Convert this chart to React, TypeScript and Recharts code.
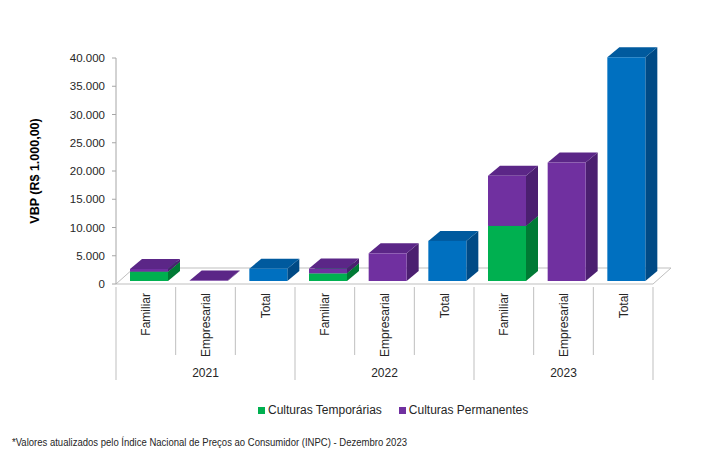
import React from 'react';
import { ComposedChart, Bar, XAxis, YAxis, CartesianGrid, Legend } from 'recharts';

// Categorias (eixo X) e anos
const categorias = ['Familiar', 'Empresarial', 'Total', 'Familiar', 'Empresarial', 'Total', 'Familiar', 'Empresarial', 'Total'];
const anos = ['2021', '2022', '2023'];

// VBP (R$ 1.000,00)
const culturasTemporarias = [1650, null, null, 1350, null, null, 9750, null, null];
const culturasPermanentes = [480, 70, null, 850, 4900, null, 8870, 20970, null];
const totais = [null, null, 2180, null, null, 7100, null, null, 39600];

const yTicks = [0, 5000, 10000, 15000, 20000, 25000, 30000, 35000, 40000];
const ordemLegenda = ['Culturas Temporárias', 'Culturas Permanentes'];

const W = 706;
const H = 471;
const PLOT_LEFT = 116;
const PLOT_RIGHT = 653;
const PLOT_TOP = 58;
const PLOT_BOTTOM = 284;
const BAND = (PLOT_RIGHT - PLOT_LEFT) / categorias.length;

const TEXT = '#262626';
const LINE = '#BFBFBF';
const FONT = "'Liberation Sans', Arial, sans-serif";

const data = categorias.map((cat, i) => ({
    id: `${anos[Math.floor(i / 3)]}-${cat}`,
    temporarias: culturasTemporarias[i],
    permanentes: culturasPermanentes[i],
    total: totais[i],
}));

const formatMilhar = (v: number) => String(v).replace(/\B(?=(\d{3})+(?!\d))/g, '.');

// barra 3D: frente + topo + lateral
const DX = 12;
const DY = 10;
const SHIFT_X = 3;
const SHIFT_Y = 3;

const make3D = (key: string, front: string, top: string, side: string) => (props: any) => {
    const { x, y, width, height, payload } = props;
    if (!payload || payload[key] == null) return <g />;
    if (x == null || y == null || height == null || isNaN(height)) return <g />;
    const x0 = x + SHIFT_X;
    const y0 = y - SHIFT_Y;
    const w = width;
    const h = Math.max(height, 0);
    return (
        <g>
            <polygon
                points={`${x0 + w},${y0} ${x0 + w + DX},${y0 - DY} ${x0 + w + DX},${y0 + h - DY} ${x0 + w},${y0 + h}`}
                fill={side}
            />
            <polygon
                points={`${x0},${y0} ${x0 + DX},${y0 - DY} ${x0 + w + DX},${y0 - DY} ${x0 + w},${y0}`}
                fill={top}
            />
            <rect x={x0} y={y0} width={w} height={h} fill={front} />
        </g>
    );
};

// piso 3D desenhado na linha de grade do zero
const Piso = (p: any) => {
    const { x1, y1, x2 } = p;
    return (
        <polygon
            key={p.key}
            points={`${x1},${y1} ${x2},${y1} ${x2 + 18},${y1 - 16} ${x1 + 18},${y1 - 16}`}
            fill="#fff"
            stroke={LINE}
            strokeWidth={1}
        />
    );
};

const CategoriaTick = (props: any) => {
    const { x, y, payload } = props;
    const i = payload.index;
    const left = x - BAND / 2;
    const major = i % 3 === 0;
    return (
        <g>
            <line x1={left} y1={y + 3} x2={left} y2={y + (major ? 96 : 71)} stroke={LINE} />
            {i === categorias.length - 1 && (
                <line x1={x + BAND / 2} y1={y + 3} x2={x + BAND / 2} y2={y + 96} stroke={LINE} />
            )}
            <text
                x={x + 4.5}
                y={y + 9}
                transform={`rotate(-90 ${x + 4.5} ${y + 9})`}
                textAnchor="end"
                fontSize={12}
                fill={TEXT}
                fontFamily={FONT}
            >
                {categorias[i]}
            </text>
            {i % 3 === 1 && (
                <text x={x} y={y + 93} textAnchor="middle" fontSize={12} fill={TEXT} fontFamily={FONT}>
                    {anos[Math.floor(i / 3)]}
                </text>
            )}
        </g>
    );
};

const LegendaCustom = (props: any) => {
    const items = (props.payload || [])
        .filter((it: any) => ordemLegenda.includes(it.value))
        .sort((a: any, b: any) => ordemLegenda.indexOf(a.value) - ordemLegenda.indexOf(b.value));
    return (
        <div style={{ display: 'flex', alignItems: 'center', fontFamily: FONT, fontSize: 12, lineHeight: '14px', color: TEXT }}>
            {items.map((it: any, idx: number) => (
                <div key={idx} style={{ display: 'flex', alignItems: 'center', marginRight: 17 }}>
                    <span style={{ width: 7, height: 7, background: it.color, marginRight: 3, display: 'inline-block' }} />
                    <span>{it.value}</span>
                </div>
            ))}
        </div>
    );
};

export default function App() {
    return (
        <div style={{ position: 'absolute', left: 0, top: 0, width: W, height: H, background: '#fff' }}>
            <ComposedChart
                width={W}
                height={H}
                data={data}
                margin={{ top: PLOT_TOP, right: W - PLOT_RIGHT, left: 0, bottom: H - PLOT_BOTTOM - 100 }}
                barSize={38}
                style={{ fontFamily: FONT }}
            >
                <CartesianGrid horizontalValues={[0]} vertical={false} horizontal={Piso as any} />
                <XAxis
                    dataKey="id"
                    interval={0}
                    height={100}
                    axisLine={false}
                    tickLine={false}
                    tickSize={0}
                    tickMargin={0}
                    tick={<CategoriaTick />}
                />
                <YAxis
                    width={PLOT_LEFT}
                    domain={[0, 40000]}
                    ticks={yTicks}
                    tickFormatter={formatMilhar}
                    axisLine={{ stroke: '#A6A6A6' }}
                    tickLine={{ stroke: '#A6A6A6' }}
                    tickSize={4}
                    tickMargin={7}
                    tick={{ fontSize: 11.5, fill: TEXT, fontFamily: FONT }}
                    label={{
                        value: 'VBP (R$ 1.000,00)',
                        angle: -90,
                        position: 'insideLeft',
                        offset: 35,
                        style: { textAnchor: 'middle', fontWeight: 'bold', fontSize: 12.5, fill: '#000', fontFamily: FONT },
                    }}
                />
                <Legend
                    layout="horizontal"
                    verticalAlign="middle"
                    align="center"
                    wrapperStyle={{ position: 'absolute', left: 258, top: 403, width: 400 }}
                    content={<LegendaCustom />}
                />
                <Bar
                    dataKey="temporarias"
                    name="Culturas Temporárias"
                    stackId="a"
                    fill="#00B050"
                    shape={make3D('temporarias', '#00B050', '#00933F', '#007A35')}
                    isAnimationActive={false}
                />
                <Bar
                    dataKey="permanentes"
                    name="Culturas Permanentes"
                    stackId="a"
                    fill="#7030A0"
                    shape={make3D('permanentes', '#7030A0', '#5B2687', '#4B1F70')}
                    isAnimationActive={false}
                />
                <Bar
                    dataKey="total"
                    name="Total"
                    stackId="a"
                    fill="#0070C0"
                    legendType="none"
                    shape={make3D('total', '#0070C0', '#005A9E', '#004A85')}
                    isAnimationActive={false}
                />
            </ComposedChart>
            <svg width={W} height={30} style={{ position: 'absolute', left: 0, top: 430 }}>
                <text
                    x={12}
                    y={16}
                    fontSize={11.5}
                    fill={TEXT}
                    textLength={395}
                    lengthAdjust="spacingAndGlyphs"
                    fontFamily={FONT}
                >
                    *Valores atualizados pelo Índice Nacional de Preços ao Consumidor (INPC) - Dezembro 2023
                </text>
            </svg>
        </div>
    );
}
